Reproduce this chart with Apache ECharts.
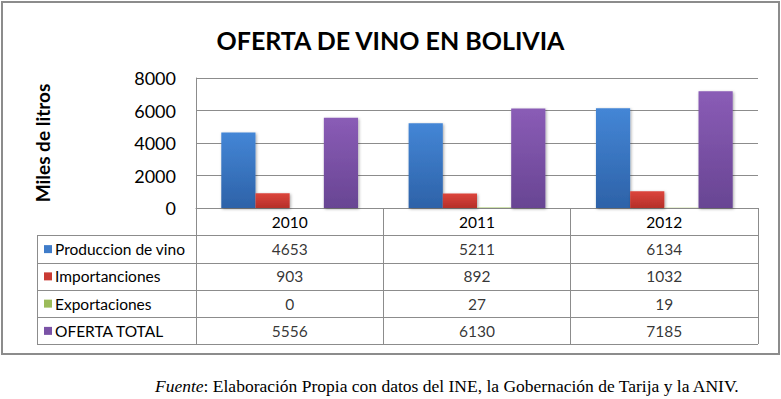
<!DOCTYPE html>
<html>
<head>
<meta charset="utf-8">
<script src="https://cdn.jsdelivr.net/npm/echarts@6/dist/echarts.min.js"></script>
<style>
  html, body { margin: 0; padding: 0; background: #fff; }
  #main { width: 781px; height: 399px; }
</style>
</head>
<body>
<div id="main"></div>
<script>
(function () {
    // datos
    var years = ['2010', '2011', '2012'];
    var seriesNames = ['Produccion de vino', 'Importanciones', 'Exportaciones', 'OFERTA TOTAL'];
    var produccion = [4653, 5211, 6134];
    var importaciones = [903, 892, 1032];
    var exportaciones = [0, 27, 19];
    var ofertaTotal = [5556, 6130, 7185];
    var yTicks = [0, 2000, 4000, 6000, 8000];

    var allValues = [produccion, importaciones, exportaciones, ofertaTotal];
    var colors = [
        ['#4486d6', '#2d62a8'],
        ['#dc453c', '#b52f29'],
        ['#a6c965', '#8aaa4c'],
        ['#8a5cb6', '#684593']
    ];
    var markColors = ['#3f7cc9', '#c93a33', '#9bbb59', '#7a52a6'];
    var lineColor = '#8c8c8c';
    var font = 'Lato';

    var myChart = echarts.init(document.getElementById('main'), null, { renderer: 'svg' });

    function grad(c) {
        return new echarts.graphic.LinearGradient(0, 0, 0, 1, [
            { offset: 0, color: c[0] },
            { offset: 1, color: c[1] }
        ]);
    }

    var barSeries = allValues.map(function (vals, i) {
        return {
            name: seriesNames[i],
            type: 'bar',
            xAxisIndex: 0,
            yAxisIndex: 0,
            data: vals,
            barGap: 0,
            barCategoryGap: '27%',
            itemStyle: {
                color: grad(colors[i]),
                shadowColor: 'rgba(0,0,0,0.35)',
                shadowBlur: 3,
                shadowOffsetX: 1,
                shadowOffsetY: 1
            },
            silent: true
        };
    });

    // celdas de la tabla
    var cells = [];
    allValues.forEach(function (vals, r) {
        vals.forEach(function (v, c) {
            cells.push([c, r, v]);
        });
    });

    var rich = {};
    markColors.forEach(function (c, i) {
        rich['m' + i] = { width: 8, height: 8, backgroundColor: c };
    });
    rich.t = { fontFamily: font, fontSize: 15.5, color: '#000', padding: [0, 0, 0, 3] };

    var option = {
        animation: false,
        title: [
            {
                text: 'OFERTA DE VINO EN BOLIVIA',
                left: 'center',
                top: 22,
                textStyle: { fontFamily: font, fontWeight: 'bold', fontSize: 25, color: '#000' }
            },
            {
                text: '{i|Fuente}: Elaboración Propia con datos del INE, la Gobernación de Tarija y la ANIV.',
                left: 150,
                top: 372,
                textStyle: {
                    fontFamily: 'Liberation Serif', fontSize: 17.5, color: '#000', fontWeight: 'normal',
                    rich: { i: { fontFamily: 'Liberation Serif', fontSize: 17.5, fontStyle: 'italic', color: '#000' } }
                }
            }
        ],
        graphic: [{
            type: 'rect',
            shape: { x: 2, y: 2, width: 777, height: 352 },
            style: { fill: 'none', stroke: lineColor, lineWidth: 2 },
            silent: true
        }],
        grid: [
            { left: 196, top: 78, width: 562, height: 130 },
            { left: 196, top: 235.5, width: 562, height: 109 }
        ],
        xAxis: [
            {
                type: 'category',
                gridIndex: 0,
                data: years,
                axisLine: { lineStyle: { color: lineColor } },
                axisTick: { show: true, interval: 0, length: 136, lineStyle: { color: lineColor } },
                axisLabel: { margin: 6, fontFamily: font, fontSize: 15.5, fontWeight: 'normal', color: '#000' }
            },
            {
                type: 'category',
                gridIndex: 1,
                data: years,
                axisLine: { show: false },
                axisTick: { show: false },
                axisLabel: { show: false }
            }
        ],
        yAxis: [
            {
                type: 'value',
                gridIndex: 0,
                min: yTicks[0],
                max: yTicks[yTicks.length - 1],
                interval: 2000,
                name: 'Miles de litros',
                nameLocation: 'middle',
                nameRotate: 90,
                nameGap: 144,
                nameTextStyle: { fontFamily: font, fontWeight: 'bold', fontSize: 19, color: '#000' },
                axisLine: { show: true, lineStyle: { color: lineColor } },
                axisTick: { show: false },
                axisLabel: {
                    margin: 20, fontFamily: font, fontSize: 18, color: '#000',
                    formatter: function (v) { return String(v); }
                },
                splitLine: { lineStyle: { color: lineColor } }
            },
            {
                type: 'category',
                gridIndex: 1,
                inverse: true,
                data: seriesNames,
                axisLine: { show: true, lineStyle: { color: lineColor } },
                axisTick: { show: true, interval: 0, length: 159, lineStyle: { color: lineColor } },
                splitLine: { show: true, interval: 0, lineStyle: { color: lineColor } },
                axisLabel: {
                    align: 'left',
                    margin: 152,
                    formatter: function (v, i) { return '{m' + i + '|}{t|' + v + '}'; },
                    rich: rich
                }
            },
            {
                type: 'category',
                gridIndex: 1,
                position: 'left',
                offset: 159,
                data: seriesNames,
                axisLine: { show: true, lineStyle: { color: lineColor } },
                axisTick: { show: false },
                axisLabel: { show: false }
            }
        ],
        series: barSeries.concat([{
            type: 'scatter',
            xAxisIndex: 1,
            yAxisIndex: 1,
            data: cells,
            symbolSize: 1,
            itemStyle: { color: 'rgba(0,0,0,0)' },
            silent: true,
            label: {
                show: true,
                position: 'inside',
                fontFamily: font,
                fontSize: 15.5,
                color: '#000',
                formatter: function (p) { return p.value[2]; }
            }
        }])
    };

    myChart.setOption(option);
    window.addEventListener('resize', function () {
        myChart.resize();
    });
})();
</script>
</body>
</html>
